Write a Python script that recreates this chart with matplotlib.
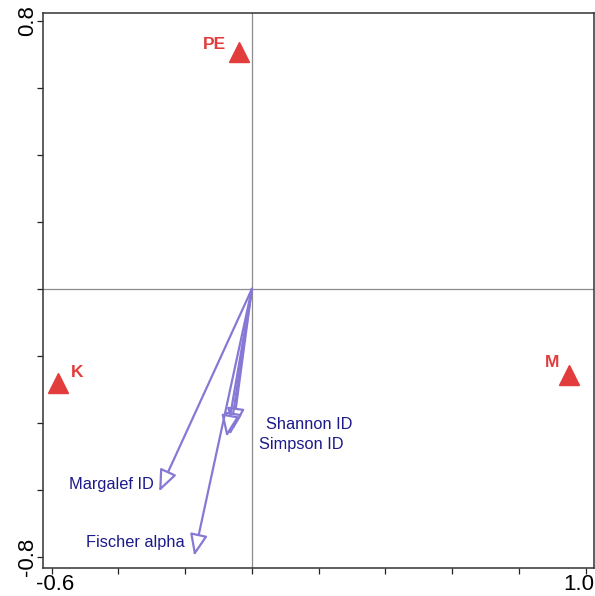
import matplotlib
matplotlib.use("Agg")
import matplotlib.pyplot as plt
from matplotlib.patches import FancyArrowPatch
from matplotlib.transforms import ScaledTranslation

plt.rcParams['font.family'] = ['Liberation Sans', 'DejaVu Sans']

# muestras (triangulos rojos)
sample_names = ["PE", "K", "M"]
sample_x = [-0.040, -0.581, 0.951]
sample_y = [0.706, -0.281, -0.257]

# indices de diversidad (flechas)
index_names = ["Shannon ID", "Simpson ID", "", "Margalef ID", "Fischer alpha"]
index_x = [-0.057, -0.066, -0.076, -0.278, -0.173]
index_y = [-0.421, -0.436, -0.442, -0.605, -0.797]

x_ticks = [-0.6, -0.4, -0.2, 0.0, 0.2, 0.4, 0.6, 0.8, 1.0]
y_ticks = [-0.8, -0.6, -0.4, -0.2, 0.0, 0.2, 0.4, 0.6, 0.8]
x_labels = ["-0.6", "", "", "", "", "", "", "", "1.0"]
y_labels = ["-0.8", "", "", "", "", "", "", "", "0.8"]

red = '#e23c3c'
arrow_col = '#8679d6'
text_col = '#1c1a8a'

fig = plt.figure(figsize=(5.95, 5.96), dpi=100)
ax = fig.add_axes([0.0728, 0.047, 0.925, 0.931])

ax.set_xlim(-0.625, 1.024)
ax.set_ylim(-0.833, 0.823)

ax.axhline(0, color='#8c8c8c', lw=0.9, zorder=1)
ax.axvline(0, color='#8c8c8c', lw=0.9, zorder=1)

ax.plot(sample_x, sample_y, linestyle='none', marker='^', ms=14,
        color=red, mec=red, zorder=3)

# desplazamientos de las etiquetas (pixeles)
sample_off = {"PE": (-13, 8, 'right'), "K": (13, 11, 'left'), "M": (-10, 12, 'right')}
for name, x, y in zip(sample_names, sample_x, sample_y):
    dx, dy, ha = sample_off[name]
    ax.annotate(name, (x, y), xytext=(dx, dy), textcoords='offset pixels',
                ha=ha, va='center', color=red, fontweight='bold', fontsize=12.5)

for name, x, y in zip(index_names, index_x, index_y):
    arr = FancyArrowPatch((0, 0), (x, y),
                          arrowstyle='-|>,head_length=1.1,head_width=0.45',
                          mutation_scale=12, lw=1.6, color=arrow_col,
                          fc='white', ec=arrow_col, shrinkA=0, shrinkB=0,
                          zorder=2)
    ax.add_patch(arr)

index_off = {"Shannon ID": (33, 5, 'left'), "Simpson ID": (29, -10, 'left'),
             "Margalef ID": (-5, 7, 'right'), "Fischer alpha": (-10, 13, 'right')}
for name, x, y in zip(index_names, index_x, index_y):
    if name == "":
        continue
    dx, dy, ha = index_off[name]
    ax.annotate(name, (x, y), xytext=(dx, dy), textcoords='offset pixels',
                ha=ha, va='center', color=text_col, fontsize=11.8)

ax.set_xticks(x_ticks)
ax.set_xticklabels(x_labels, fontsize=16)
ax.set_yticks(y_ticks)
ax.set_yticklabels(y_labels, fontsize=16, rotation=90, va='center')
ax.tick_params(direction='out', length=4, width=0.9, color='#222222', pad=0)

# correr un poco las etiquetas extremas del eje x
labs = ax.get_xticklabels()
labs[0].set_transform(labs[0].get_transform() + ScaledTranslation(0.03, 0, fig.dpi_scale_trans))
labs[-1].set_transform(labs[-1].get_transform() + ScaledTranslation(-0.07, 0, fig.dpi_scale_trans))

for s in ax.spines.values():
    s.set_color('#333333')
    s.set_linewidth(1.1)

fig.savefig('out.png', dpi=100)
